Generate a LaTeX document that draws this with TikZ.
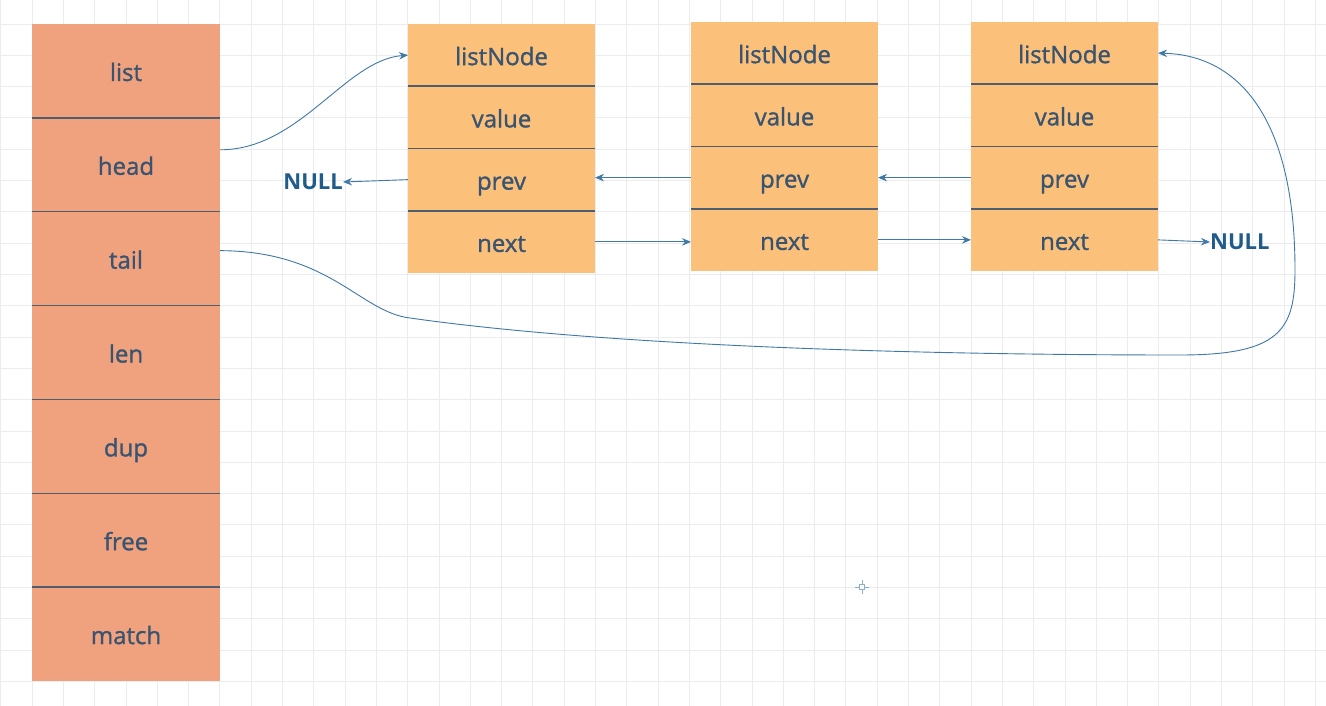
\documentclass[tikz,border=0pt]{standalone}
\usepackage{fontspec}
\setmainfont{Open Sans}
\newfontfamily\lblfont[UprightFeatures={FakeBold=1.2}]{Open Sans}
\usetikzlibrary{arrows.meta}
\definecolor{salmon}{HTML}{F0A27F}
\definecolor{orng}{HTML}{FBC17B}
\definecolor{txt}{HTML}{3A5470}
\definecolor{sep}{HTML}{4F5E6E}
\definecolor{arr}{HTML}{3F79A6}
\definecolor{nullc}{HTML}{1F5C8C}
\definecolor{gridc}{HTML}{EAECF1}
\begin{document}
\begin{tikzpicture}[x=1pt,y=-1pt,
 cell/.style={rectangle,inner sep=0pt,outer sep=0pt,anchor=north west,text=txt,
   font=\lblfont\fontsize{24}{28}\selectfont,text height=20pt,text depth=0pt},
 lcell/.style={cell,fill=salmon,minimum width=188pt,minimum height=93.86pt},
 ncell/.style={cell,fill=orng,minimum width=187pt,minimum height=62.25pt},
 sepline/.style={draw=sep,line width=1.5pt},
 link/.style={draw=arr,line width=0.9pt,-{Stealth[length=9pt,width=7.5pt]}},
 nulltxt/.style={text=nullc,font=\fontsize{22}{26}\selectfont\bfseries,inner sep=0pt}]
\useasboundingbox (0,0) rectangle (1326,706);
\fill[white] (0,0) rectangle (1326,706);
% grid
\foreach \i in {-1,...,42} \draw[gridc,line width=0.8pt] ({32+31.3*\i},0) -- ({32+31.3*\i},706);
\foreach \j in {-1,...,22} \draw[gridc,line width=0.8pt] (0,{24+31.3*\j}) -- (1326,{24+31.3*\j});
% left structure
\node[lcell] (L1) at (32,24) {list};
\node[lcell] (L2) at (L1.south west) {head};
\node[lcell] (L3) at (L2.south west) {tail};
\node[lcell] (L4) at (L3.south west) {len};
\node[lcell] (L5) at (L4.south west) {dup};
\node[lcell] (L6) at (L5.south west) {free};
\node[lcell] (L7) at (L6.south west) {match};
\foreach \k in {1,...,6} \draw[sepline] (L\k.south west) -- (L\k.south east);
% list nodes
\foreach \n/\x/\y in {1/408/24,2/691/22,3/971/22}{
  \node[ncell] (N\n a) at (\x,\y) {listNode};
  \node[ncell] (V\n) at (N\n a.south west) {value};
  \node[ncell] (P\n) at (V\n.south west) {prev};
  \node[ncell] (X\n) at (P\n.south west) {next};
  \draw[sepline] (N\n a.south west) -- (N\n a.south east);
  \draw[sepline] (V\n.south west) -- (V\n.south east);
  \draw[sepline] (P\n.south west) -- (P\n.south east);
}
% NULL labels
\node[nulltxt,anchor=east] (NL) at (343,182) {NULL};
\node[nulltxt,anchor=west] (NR) at (1210,242) {NULL};
% prev / next links
\draw[link] (P1.west) -- (NL.east);
\draw[link] (P2.west) -- (P1.east |- P2.west);
\draw[link] (P3.west) -- (P2.east |- P3.west);
\draw[link] (X1.east) -- (X2.west |- X1.east);
\draw[link] (X2.east) -- (X3.west |- X2.east);
\draw[link] (X3.east) -- (NR.west);
% head and tail
\draw[link] ([yshift=15pt]L2.east) .. controls (300,150) and (345,60) .. (N1a.west);
\draw[link] ([yshift=8pt]L3.east) .. controls (330,251) and (360,312) .. (410,318)
   .. controls (600,345) and (900,355) .. (1180,355)
   .. controls (1280,355) and (1295,330) .. (1295,270)
   .. controls (1295,120) and (1240,55) .. (N3a.east);
% cursor mark
\draw[arr!60,line width=0.8pt] (855,587) -- (869,587) (862,580) -- (862,594);
\draw[arr!60,line width=0.6pt,fill=white] (859.5,584.5) rectangle (864.5,589.5);
\end{tikzpicture}
\end{document}
